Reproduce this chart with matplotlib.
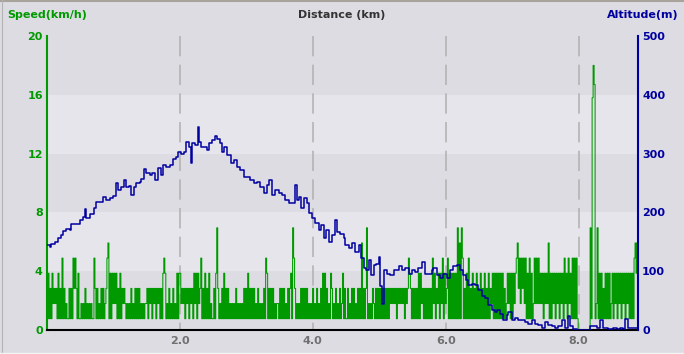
import numpy as np
import matplotlib
matplotlib.use("Agg")
import matplotlib.pyplot as plt
from matplotlib.lines import Line2D

# speed levels (km/h), one char per sample
speed_levels = {'0': 0.0, '1': 0.77, '2': 1.80, '3': 2.83, '4': 3.86, '5': 4.89,
                '6': 5.92, '7': 6.95, 'A': 15.8, 'B': 18.0, 'C': 16.7}
speed_step_km = 1 / 66.55
speed_str = "".join([
    "141314", "2323", "14131", "5", "13121", "13131", "5", "3", "5", "3141",
    "1212131212121", "1", "5", "313121313123", "5", "6", "14142424", "131413232",
    "12121312131313121212", "23132313231323131", "454", "1213121312141", "44",
    "23231323132314241423", "5",
    "13141314", "121", "13147", "3", "121", "3141313", "121212131212121",
    "31314131313", "12131212131", "54", "131313", "12122", "1313131213", "13",
    "4", "1", "7", "5", "3", "121213131313121", "213121312131", "414", "13121",
    "4", "31213121312", "4", "131",
    "131213131213131", "6", "1313", "7", "1212132", "1313131313131313",
    "232323132323231323", "5", "43", "1313131", "41423", "131313131", "5",
    "241324142", "5", "1423", "5", "141414141", "7", "16175", "13141", "5",
    "1314131413141314131413",
    "241", "414141414", "131", "2424141424", "56", "35253525", "1415141",
    "252525", "242414242", "6", "14142414241424", "1524152415", "15151",
    "000000000000", "71ABC127", "1414131414141", "24142414241424142414",
    "1415646",
])

alt_km = [0.0, 0.017, 0.042, 0.067, 0.117, 0.167, 0.217, 0.242, 0.293, 0.343, 0.368,
          0.443, 0.493, 0.543, 0.568, 0.593, 0.643, 0.708, 0.743, 0.793, 0.843,
          0.894, 0.944, 0.994, 1.034, 1.069, 1.119, 1.154, 1.194, 1.229, 1.269,
          1.309, 1.345, 1.395, 1.419, 1.454, 1.495, 1.545, 1.580, 1.630, 1.670,
          1.710, 1.745, 1.795, 1.845, 1.895, 1.935, 1.970, 2.021, 2.061, 2.096,
          2.136, 2.171, 2.186, 2.231, 2.271, 2.286,
          2.311, 2.361, 2.412, 2.436, 2.487, 2.526, 2.562, 2.597, 2.627, 2.661,
          2.712, 2.762, 2.811, 2.863, 2.912, 2.962, 3.013, 3.062, 3.112, 3.163,
          3.213, 3.262, 3.313, 3.348, 3.388, 3.438, 3.488, 3.539, 3.588, 3.638,
          3.689, 3.739, 3.764, 3.788, 3.829, 3.863, 3.914, 3.949, 3.989, 4.039,
          4.089, 4.129, 4.164, 4.204, 4.239, 4.290, 4.329, 4.365, 4.415,
          4.464, 4.490, 4.540, 4.590, 4.640, 4.690, 4.726, 4.765, 4.805, 4.840,
          4.876, 4.915, 4.956, 4.990, 5.016, 5.041, 5.065, 5.116, 5.166, 5.216,
          5.267, 5.291, 5.342, 5.391, 5.441, 5.492, 5.542, 5.591, 5.642, 5.692,
          5.742, 5.793, 5.817, 5.868, 5.917, 5.967, 6.018, 6.068, 6.117, 6.168,
          6.218, 6.268, 6.308, 6.343, 6.394, 6.443, 6.493, 6.544, 6.594, 6.643,
          6.694, 6.744, 6.769, 6.819, 6.869, 6.920, 6.944, 6.995, 7.044, 7.094,
          7.145, 7.195, 7.244, 7.295, 7.345, 7.394, 7.445, 7.495, 7.545, 7.596,
          7.645, 7.695, 7.746, 7.796, 7.845, 7.871, 7.920, 7.971, 8.146, 8.171,
          8.221, 8.272, 8.322, 8.371, 8.446, 8.521, 8.572, 8.622, 8.672, 8.697,
          8.747, 8.822, 8.897]
alt_m = [145, 145, 142, 146, 150, 156, 162, 169, 171, 170, 180,
         180, 187, 193, 205, 190, 198, 207, 218, 218, 226,
         221, 224, 228, 250, 238, 244, 255, 244, 245, 230,
         244, 250, 252, 256, 273, 267, 264, 267, 255, 275,
         264, 281, 278, 281, 290, 295, 302, 299, 303, 320,
         312, 284, 318, 315, 345, 320,
         312, 312, 306, 318, 323, 330, 325, 318, 302, 312,
         298, 284, 289, 278, 272, 261, 261, 255, 250, 252,
         244, 233, 247, 255, 230, 238, 233, 230, 221, 216,
         216, 247, 221, 227, 207, 224, 216, 199, 190, 182,
         170, 179, 156, 170, 150, 162, 187, 167, 164,
         156, 145, 139, 148, 133, 145, 122, 105, 102, 119,
         94, 111, 113, 125, 74, 45, 102, 96, 94, 102,
         102, 108, 102, 105, 96, 102, 99, 105, 115, 96,
         96, 102, 105, 94, 88, 96, 88, 102, 108, 111,
         102, 94, 85, 77, 79, 77, 68, 57, 54, 43,
         34, 31, 34, 28, 17, 26, 31, 17, 20, 17,
         17, 14, 11, 17, 11, 9, 3, 14, 9, 6,
         3, 6, 17, 3, 23, 6, 2, 0, 0, 7,
         7, 3, 17, 4, 2, 3, 2, 4, 2, 18,
         3, 3, 4]

x_ticks = [2, 4, 6, 8]
speed_ticks = [0, 4, 8, 12, 16, 20]
alt_ticks = [0, 100, 200, 300, 400, 500]

green = '#009a00'
blue = '#0000a0'
bg_dark = '#dddce3'
bg_light = '#e6e5ec'

speed = [speed_levels[c] for c in speed_str]
speed_km = np.arange(len(speed)) * speed_step_km

plt.rcParams['font.family'] = 'DejaVu Sans'
plt.rcParams['font.weight'] = 'bold'
plt.rcParams['font.size'] = 8

fig = plt.figure(figsize=(6.84, 3.54), dpi=100, facecolor=bg_dark)
ax = fig.add_axes([47 / 684, 24 / 354, 591 / 684, 294 / 354])
ax.set_facecolor(bg_dark)

for i in range(5):
    ax.axhspan(i * 4, i * 4 + 4, color=bg_light if i % 2 else bg_dark, lw=0, zorder=0)
for xv in x_ticks:
    ax.plot([xv, xv], [20, 0], color='#b4b4b4', lw=1.2, zorder=1,
            dashes=(12.2, 5.0), dash_capstyle='butt')

ax.step(speed_km, speed, where='post', color=green, lw=0.75, zorder=2)
ax.set_xlim(0, 8.895)
ax.set_ylim(0, 20)
ax.set_yticks(speed_ticks)
ax.set_xticks(x_ticks)
ax.set_xticklabels([f"{v:.1f}" for v in x_ticks])
ax.tick_params(axis='y', length=0, pad=3, colors=green, labelsize=8)
ax.tick_params(axis='x', length=0, pad=4.5, labelcolor='#707070', labelsize=8)
for s in ['top', 'right']:
    ax.spines[s].set_visible(False)
ax.spines['left'].set_color(green)
ax.spines['left'].set_linewidth(1.5)
ax.spines['bottom'].set_color('black')
ax.spines['bottom'].set_linewidth(1.5)

ax2 = ax.twinx()
ax2.step(alt_km, alt_m, where='post', color=blue, lw=1.1, zorder=3)
ax2.set_ylim(0, 500)
ax2.set_yticks(alt_ticks)
ax2.tick_params(axis='y', length=0, pad=3, colors=blue, labelsize=8)
for s in ['top', 'left', 'bottom']:
    ax2.spines[s].set_visible(False)
ax2.spines['right'].set_color(blue)
ax2.spines['right'].set_linewidth(1.5)

fig.text(7 / 684, 1 - 15 / 354, "Speed(km/h)", color=green, ha='left', va='center')
fig.text(342 / 684, 1 - 15 / 354, "Distance (km)", color='#333333', ha='center', va='center')
fig.text(679 / 684, 1 - 15 / 354, "Altitude(m)", color=blue, ha='right', va='center')

fig.add_artist(Line2D([0, 1], [1 - 1 / 354, 1 - 1 / 354], color='#a8a49c', lw=1.5))
fig.add_artist(Line2D([1.5 / 684, 1.5 / 684], [0, 1], color='#b4b4b4', lw=0.8))
fig.add_artist(Line2D([0, 1], [1.5 / 354, 1.5 / 354], color='#f4f4f4', lw=1.0))

fig.savefig("out.png", dpi=100, facecolor=fig.get_facecolor())
